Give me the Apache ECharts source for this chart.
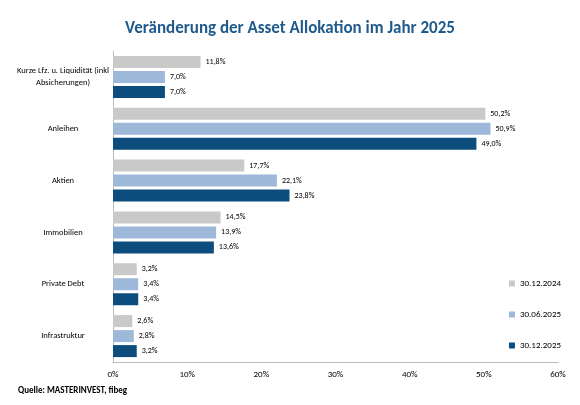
<!DOCTYPE html>
<html><head><meta charset="utf-8">
<script src="https://cdn.jsdelivr.net/npm/echarts@6/dist/echarts.min.js"></script>
<style>html,body{margin:0;background:#fff}#c{width:580px;height:405px}</style>
</head><body><div id="c"></div>
<script>
const categories = ['Kurze Lfz. u. Liquidität (inkl\nAbsicherungen)', 'Anleihen', 'Aktien', 'Immobilien', 'Private Debt', 'Infrastruktur'];
const seriesNames = ['30.12.2024', '30.06.2025', '30.12.2025'];
const v2024 = [11.8, 50.2, 17.7, 14.5, 3.2, 2.6];
const v2025h = [7.0, 50.9, 22.1, 13.9, 3.4, 2.8];
const v2025 = [7.0, 49.0, 23.8, 13.6, 3.4, 3.2];
const colors = ['#c9c9c9', '#9db8d8', '#0d4d7d'];

const chart = echarts.init(document.getElementById('c'));
const font = 'Calibri, "Liberation Sans", "DejaVu Sans", sans-serif';
chart.setOption({
  animation: false,
  textStyle: { fontFamily: font },
  title: {
    text: 'Veränderung der Asset Allokation im Jahr 2025', left: 'center', top: 15,
    textStyle: { color: '#1f5a8c', fontSize: 17, fontWeight: 'bold', fontFamily: font }
  },
  graphic: [{ type: 'text', left: 18, top: 386,
    style: { text: 'Quelle: MASTERINVEST, fibeg', font: 'bold 9px ' + font, fill: '#000' } }],
  legend: {
    orient: 'vertical', right: 14, top: 274, itemGap: 22, itemWidth: 6, itemHeight: 6,
    icon: 'rect', textStyle: { fontSize: 9, color: '#000' }
  },
  grid: { left: 113, right: 22, top: 51, bottom: 43 },
  xAxis: {
    type: 'value', min: 0, max: 60, interval: 10,
    axisLabel: { formatter: '{value}%', fontSize: 9, color: '#000' },
    axisLine: { show: true, lineStyle: { color: '#bbb' } },
    axisTick: { show: false }, splitLine: { show: false }
  },
  yAxis: {
    type: 'category', data: categories, inverse: true,
    axisLabel: { fontSize: 8.5, color: '#000', align: 'center', margin: 50, lineHeight: 12 },
    axisLine: { lineStyle: { color: '#bbb' } }, axisTick: { show: false }
  },
  series: [v2024, v2025h, v2025].map((d, i) => ({
    name: seriesNames[i], type: 'bar', data: d, barWidth: 12, barGap: '25%',
    itemStyle: { color: colors[i] },
    label: { show: true, position: 'right', fontSize: 8, color: '#000',
      formatter: p => p.value.toFixed(1).replace('.', ',') + '%' }
  }))
});
</script></body></html>
